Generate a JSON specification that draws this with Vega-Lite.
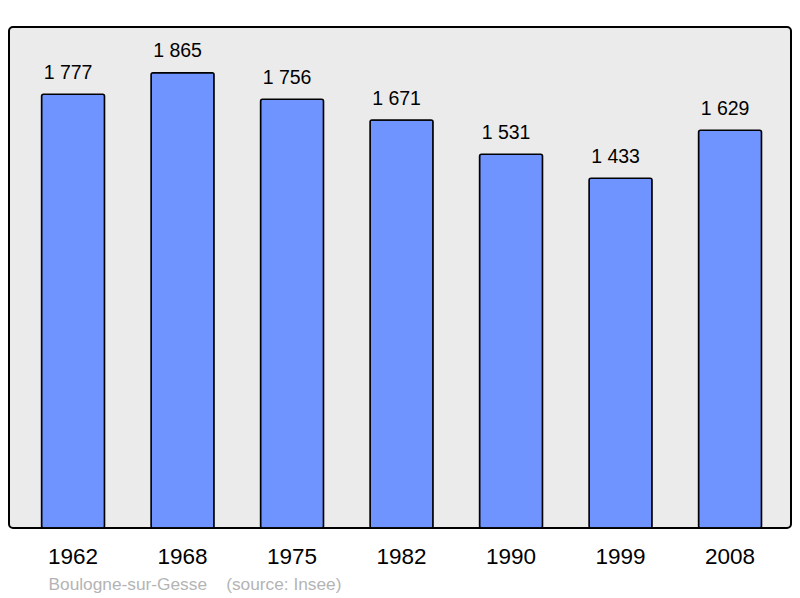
{
  "$schema": "https://vega.github.io/schema/vega-lite/v6.json",
  "width": 782,
  "height": 501,
  "autosize": {"type": "none"},
  "padding": {"left": 9, "top": 27, "right": 9, "bottom": 70},
  "background": "white",
  "config": {
    "font": "Liberation Sans",
    "view": {"fill": "#ebebeb", "stroke": "black", "strokeWidth": 2, "cornerRadius": 4},
    "locale": {
      "number": {"decimal": ",", "thousands": "\u00a0", "grouping": [3], "currency": ["", " €"]}
    }
  },
  "data": {
    "values": [
      {"year": "1962", "population": 1777},
      {"year": "1968", "population": 1865},
      {"year": "1975", "population": 1756},
      {"year": "1982", "population": 1671},
      {"year": "1990", "population": 1531},
      {"year": "1999", "population": 1433},
      {"year": "2008", "population": 1629}
    ]
  },
  "encoding": {
    "x": {
      "field": "year",
      "type": "nominal",
      "sort": null,
      "scale": {"paddingInner": 0, "paddingOuter": 0.0708, "align": 0.6},
      "axis": {
        "labelAngle": 0,
        "labelFontSize": 22.5,
        "labelColor": "black",
        "labelFont": "Liberation Sans",
        "labelBaseline": "alphabetic",
        "labelPadding": 35.5,
        "domain": false,
        "ticks": false,
        "tickSize": 0,
        "grid": false,
        "title": "Boulogne-sur-Gesse\u00a0\u00a0\u00a0\u00a0(source: Insee)",
        "titleX": 39,
        "titleY": 61.5,
        "titleAlign": "left",
        "titleAnchor": "start",
        "titleBaseline": "alphabetic",
        "titleFontSize": 17.3,
        "titleFontWeight": "normal",
        "titleColor": "#b4b4b4",
        "titleFont": "Liberation Sans"
      }
    },
    "y": {
      "field": "population",
      "type": "quantitative",
      "scale": {"domain": [0, 2052], "nice": false, "zero": true},
      "axis": null
    }
  },
  "layer": [
    {
      "mark": {"type": "bar", "width": 63, "fill": "#7094ff", "stroke": "black", "strokeWidth": 1.5, "cornerRadius": 2}
    },
    {
      "mark": {"type": "text", "align": "center", "baseline": "alphabetic", "dy": -15.5, "dx": -5, "fontSize": 19.5, "font": "Liberation Sans", "color": "black"},
      "encoding": {
        "text": {"field": "population", "type": "quantitative", "format": ",d"}
      }
    }
  ]
}
